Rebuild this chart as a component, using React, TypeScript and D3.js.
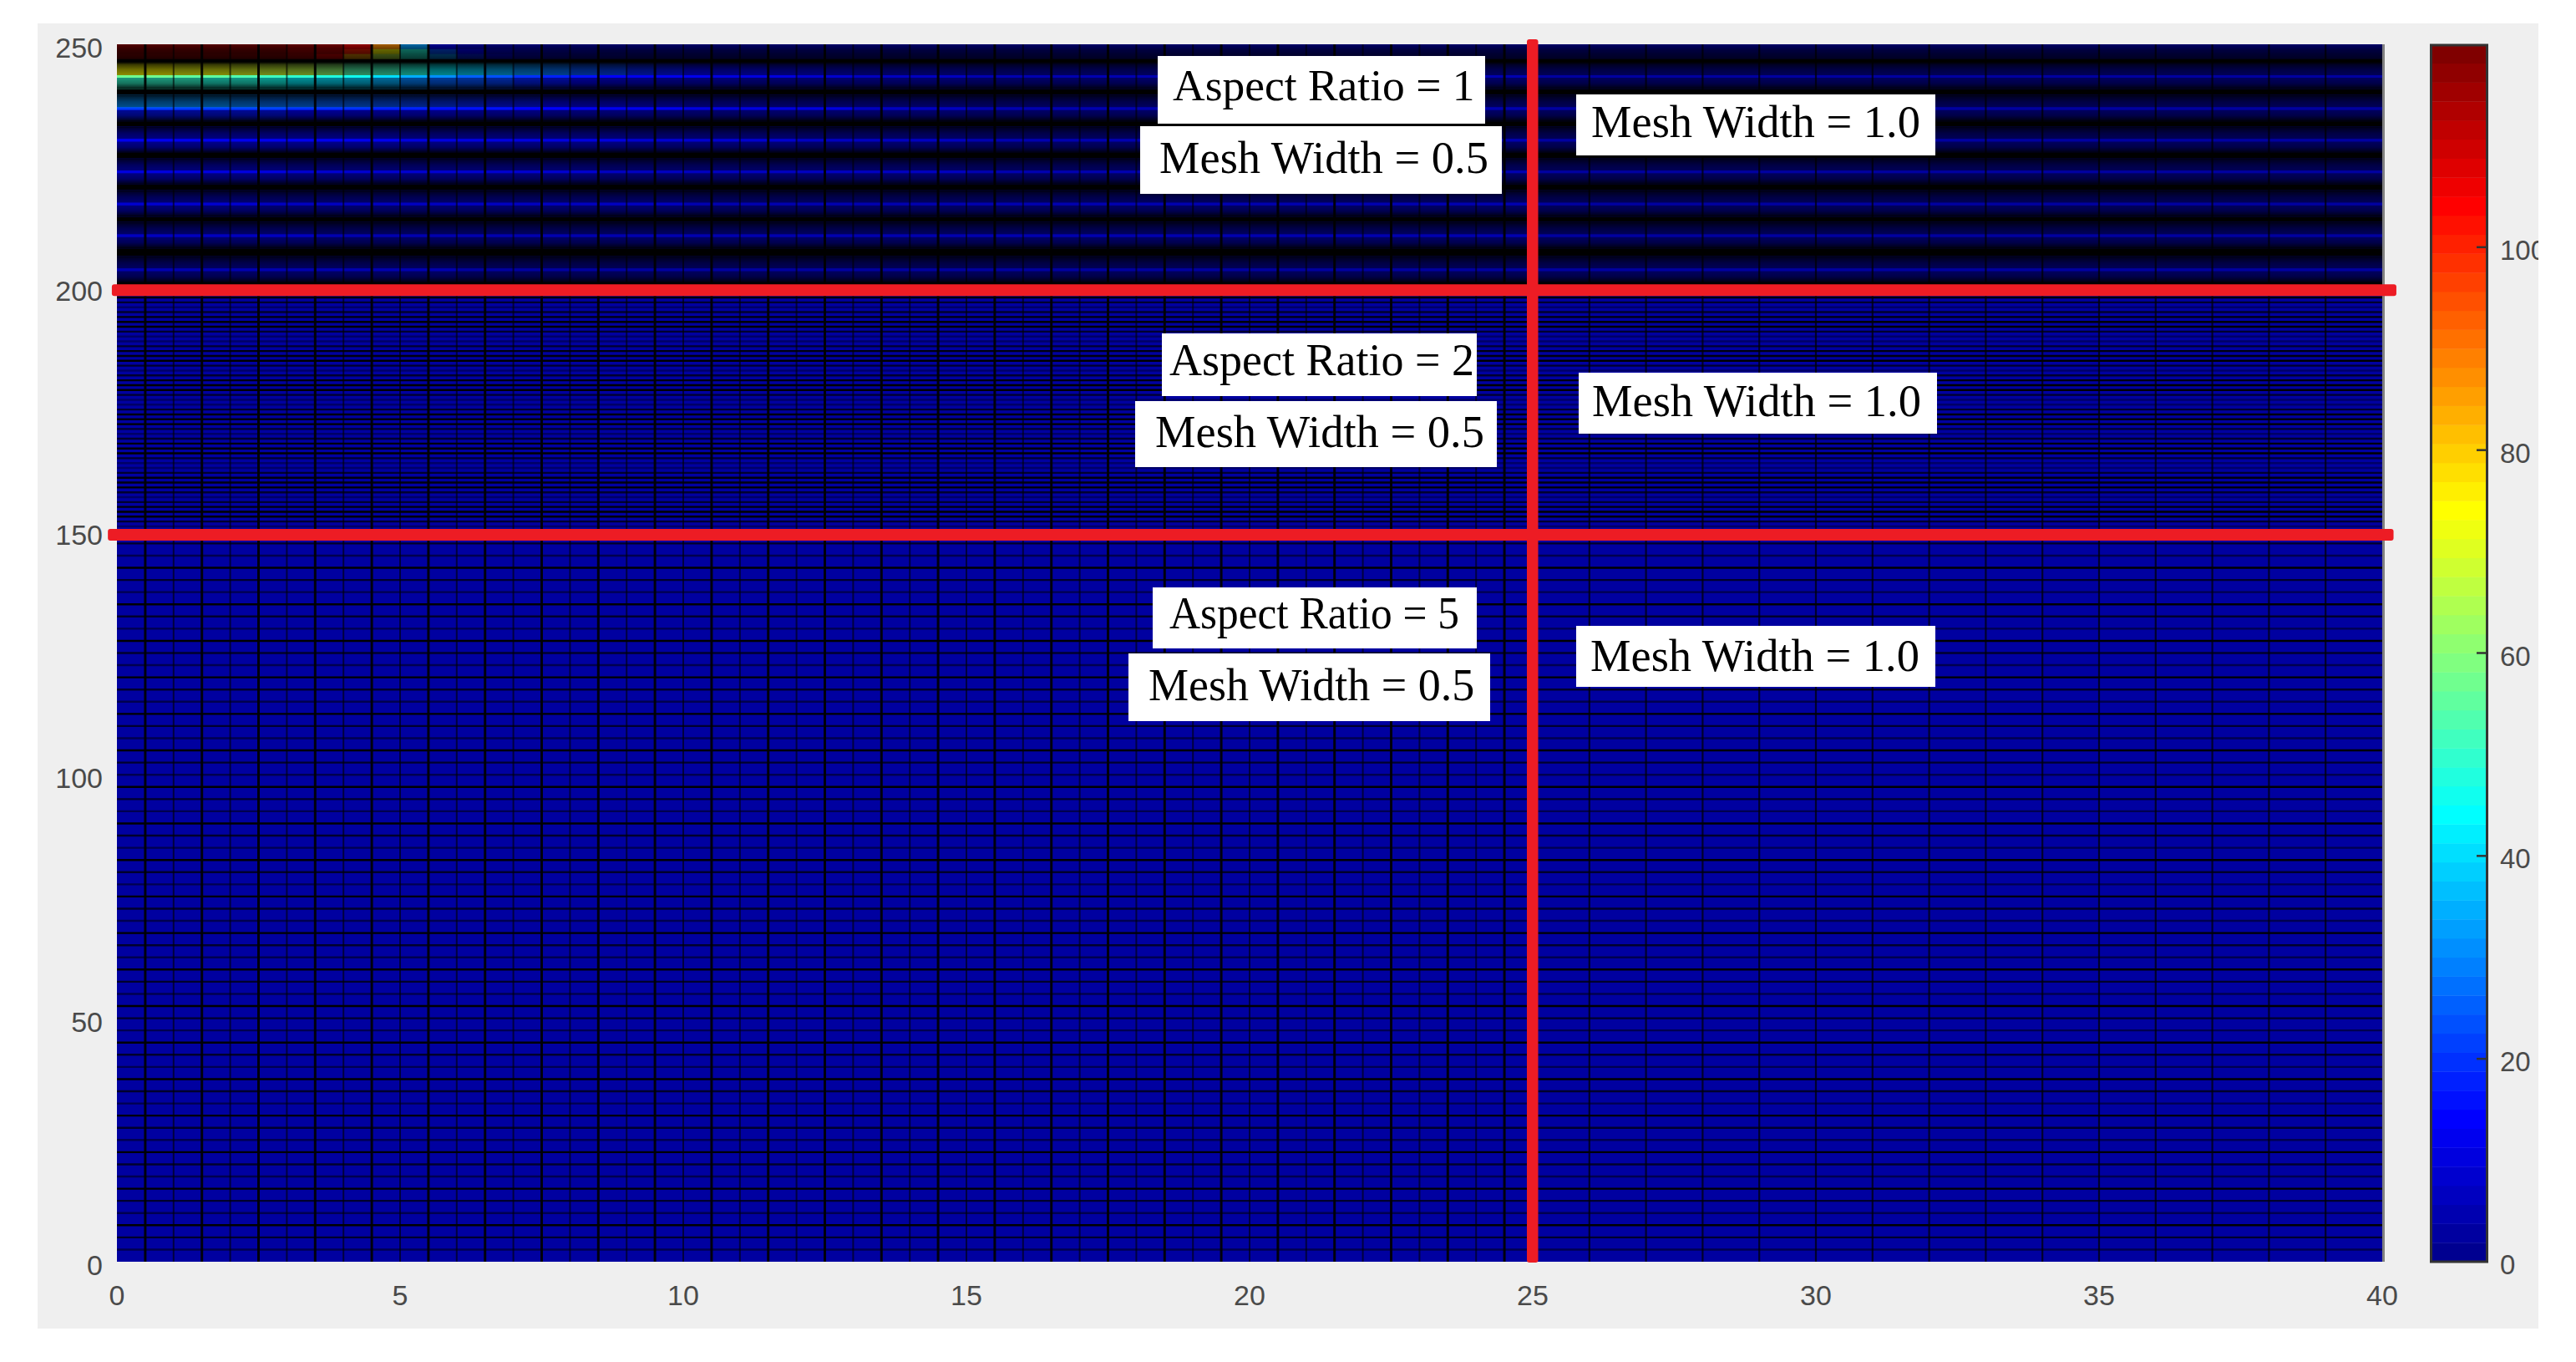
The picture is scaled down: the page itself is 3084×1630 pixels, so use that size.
import React from "react";
import * as d3 from "d3";

// ---------- data (temperature-like field, colour range 0..120) ----------
const xTicks = [0, 5, 10, 15, 20, 25, 30, 35, 40];
const yTicks = [0, 50, 100, 150, 200, 250];
const cbarTicks = [0, 20, 40, 60, 80, 100];

// mesh spacing per zone
const xEdgesFine = d3.range(0, 25.001, 0.5);
const xEdgesCoarse = d3.range(26, 40.001, 1);
const yLinesAR5 = d3.range(2.5, 150, 2.5);
const yLinesAR2 = d3.range(151, 200, 1);

const lowerFieldValue = 2;

// top strip (three sub rows), one value per 0.5-wide column from x=0
const topUpper = [119,119,119,119,119,119,118,116,108,88,32,10,7,5,4,3,3,3,2,2,2,2,2,2,2,2];
const topMiddle = [119,119,119,119,119,119,116,113,100,74,48,24,14,9,6,5,4,3,3,2,2,2,2,2,2,2];
const topLower = [118,118,118,118,117,117,113,105,85,66,48,30,18,12,8,6,5,4,3,3,2,2,2,2,2,2];

// moire-banded rows near the top surface
const bandLineY = [243.4, 236.8, 230.3, 223.8, 217.2, 210.7, 203.7];

const band1Above = [74,74,73,72,71,69,66,60,54,52,48,43,39,35,30,27,24,21,18,16,14,13,12,11,10,9];
const band1Line = [57,57,56,55,54,52,50,47,46,41,35,30,26,24,20,18,15,14,13,13,12,11,10,10,9,9];
const band1Below = [50,50,49,48,47,45,43,40,38,34,29,26,24,21,18,15,12,11,10,9,8,8,7,7,6,6];

const band2Above = [31,31,30,30,29,28,27,26,25,23,21,19,18,16,15,14,13,12,11,10,9,8,8,7,7,6];
const band2Line = [22,22,22,21,21,21,20,20,19,18,17,16,15,15,14,14,13,13,12,12,11,11,11,10,10,10];
const band2Below = [16,16,16,15,15,15,14,14,13,13,12,12,11,10,10,9,8,8,8,7,7,7,6,6,6,6];

const band3Line = [13,13,13,13,12,12,12,12,12,12,11,11,11,11,10,10,10,10,9,9,9,8,8,8,7,7];
const band4Line = [10,10,10,10,10,10,9,9,9,9,9,9,9,8,8,8,8,7,7,7,7,7,6,6,6,6];
const band5Line = [8,8,8,8,8,7,7,7,7,7,7,7,7,7,6,6,6,6,6,6,5,5,5,5,5,5];
const band6Line = [6,6,6,6,6,6,6,5,5,5,5,5,5,5,5,5,4,4,4,4,4,4,4,4,4,4];
const band7Line = [4,4,4,4,4,4,4,4,4,4,4,4,3,3,3,3,3,3,3,3,3,3,3,3,3,3];

// values right of x=13, per remaining column
const farLine = [6,6,6,6,5.5,5.5,5,5,5,5,4.5,4.5,4.5,4.5,4,4,4,4,4,4,4,4,4,4,3.5,3.5,3.5,3.5,3.5,3.5,3,3,3,3,3,3,3,3,3];

// annotation text
const labels = [
  { t: "Aspect Ratio = 1", box: [1386, 67, 1778, 148], x: 1404, y: 120, fs: 53.5 },
  { t: "Mesh Width = 0.5", box: [1365, 151, 1798, 232], x: 1388, y: 207, fs: 54.5 },
  { t: "Mesh Width = 1.0", box: [1887, 113, 2317, 186], x: 1905, y: 164, fs: 54.5 },
  { t: "Aspect Ratio = 2", box: [1391, 399, 1768, 474], x: 1400, y: 449, fs: 54 },
  { t: "Mesh Width = 0.5", box: [1359, 480, 1792, 559], x: 1383, y: 535, fs: 54.5 },
  { t: "Mesh Width = 1.0", box: [1890, 446, 2319, 519], x: 1906, y: 498, fs: 54.5 },
  { t: "Aspect Ratio = 5", box: [1380, 703, 1768, 776], x: 1400, y: 752, fs: 54, len: 347 },
  { t: "Mesh Width = 0.5", box: [1351, 782, 1784, 863], x: 1375, y: 838, fs: 54 },
  { t: "Mesh Width = 1.0", box: [1887, 749, 2317, 822], x: 1904, y: 803, fs: 54.5 },
];

// ---------- layout ----------
const W = 3084, H = 1630;
const panel = { x0: 45, y0: 28, x1: 3039, y1: 1590 };
const plot = { x0: 140, x1: 2852, y0: 53, y1: 1510 };
const cbar = { x0: 2909, x1: 2979 };

const x = d3.scaleLinear().domain([0, 40]).range([plot.x0, plot.x1]);
const y = d3.scaleLinear().domain([0, 250]).range([plot.y1, plot.y0]);
const cy = d3.scaleLinear().domain([0, 120]).range([plot.y1, plot.y0]);

const jetBase = d3.scaleLinear<string>()
  .domain([0, 1 / 8, 3 / 8, 5 / 8, 7 / 8, 1])
  .range(["rgb(0,0,128)", "rgb(0,0,255)", "rgb(0,255,255)", "rgb(255,255,0)", "rgb(255,0,0)", "rgb(128,0,0)"])
  .interpolate(d3.interpolateRgb);
const levels = d3.range(64);
const jet = d3.scaleQuantize<string>().domain([0, 120]).range(levels.map((i) => jetBase((i + 1) / 64)));

// columns: 0.5 wide up to x=25, 1.0 wide after
const edges = [...xEdgesFine, ...xEdgesCoarse];
const columns = edges.slice(0, -1).map((e, i) => ({ x0: e, x1: edges[i + 1], i }));
const val = (arr: number[], i: number) =>
  i < arr.length ? arr[i] : Math.min(arr[arr.length - 1], farLine[i - arr.length]);

const bands = [
  { above: band1Above, line: band1Line, below: band1Below },
  { above: band2Above, line: band2Line, below: band2Below },
  { above: band3Line, line: band3Line, below: band3Line },
  { above: band4Line, line: band4Line, below: band4Line },
  { above: band5Line, line: band5Line, below: band5Line },
  { above: band6Line, line: band6Line, below: band6Line },
  { above: band7Line, line: band7Line, below: band7Line },
];
const topRows = [
  { v: topUpper, y0: 250, y1: 249 },
  { v: topMiddle, y0: 249, y1: 248 },
  { v: topLower, y0: 248, y1: 247.05 },
];

const ar5Alpha = [1, 0.72, 0.5];
const ar2Alpha = [0.9, 1, 0.7, 0.35, 0.7, 0.9, 1, 1, 0.7, 0.35, 0.35, 0.7, 0.9];

const tickFont = { fontFamily: "'Liberation Sans', Arial, sans-serif", fontSize: 34, fill: "#4a4a4a" };

const redH = [
  { v: 199.5, a: -0.09, b: 40.25 },
  { v: 149.3, a: -0.16, b: 40.2 },
];

export default function App() {
  const bandAboveH = 2.83, bandBelowH = 2.6, lineH = 0.25;
  return (
    <svg width={W} height={H} viewBox={`0 0 ${W} ${H}`} style={{ position: "absolute", left: 0, top: 0, background: "#fff" }}>
      <defs>
        <clipPath id="panelClip">
          <rect x={panel.x0} y={panel.y0} width={panel.x1 - panel.x0} height={panel.y1 - panel.y0} />
        </clipPath>
        <clipPath id="plotClip">
          <rect x={plot.x0} y={plot.y0} width={plot.x1 - plot.x0} height={plot.y1 - plot.y0} />
        </clipPath>
        <linearGradient id="shadeAbove" x1="0" x2="0" y1="0" y2="1">
          <stop offset="0" stopColor="#000" stopOpacity={0.95} />
          <stop offset="0.15" stopColor="#000" stopOpacity={0.78} />
          <stop offset="0.55" stopColor="#000" stopOpacity={0.58} />
          <stop offset="1" stopColor="#000" stopOpacity={0.45} />
        </linearGradient>
        <linearGradient id="shadeBelow" x1="0" x2="0" y1="0" y2="1">
          <stop offset="0" stopColor="#000" stopOpacity={0.4} />
          <stop offset="0.5" stopColor="#000" stopOpacity={0.55} />
          <stop offset="0.85" stopColor="#000" stopOpacity={0.8} />
          <stop offset="1" stopColor="#000" stopOpacity={0.96} />
        </linearGradient>
        <linearGradient id="shadeTop" x1="0" x2="0" y1="0" y2="1">
          <stop offset="0" stopColor="#000" stopOpacity={0.35} />
          <stop offset="0.35" stopColor="#000" stopOpacity={0.6} />
          <stop offset="1" stopColor="#000" stopOpacity={0.78} />
        </linearGradient>
      </defs>

      <rect x={panel.x0} y={panel.y0} width={panel.x1 - panel.x0} height={panel.y1 - panel.y0} fill="#efefef" />

      {/* field */}
      <g clipPath="url(#plotClip)">
        <rect x={plot.x0} y={plot.y0} width={plot.x1 - plot.x0} height={plot.y1 - plot.y0} fill="#000" />
        <rect x={plot.x0} y={y(200)} width={plot.x1 - plot.x0} height={plot.y1 - y(200)} fill={jet(lowerFieldValue)} />

        {/* top strip */}
        {topRows.map((r, k) =>
          columns.map((c) => (
            <rect key={`t${k}-${c.i}`} x={x(c.x0)} width={x(c.x1) - x(c.x0) + 0.5}
              y={y(r.y0)} height={y(r.y1) - y(r.y0) + (k < 2 ? 0.3 : 0)} fill={jet(val(r.v, c.i))} />
          ))
        )}
        <rect x={plot.x0} y={y(250)} width={plot.x1 - plot.x0} height={y(247.05) - y(250)} fill="url(#shadeTop)" />
        {/* bands */}
        {bands.map((b, k) => {
          const ly = bandLineY[k];
          return (
            <g key={`b${k}`}>
              {columns.map((c) => (
                <g key={c.i}>
                  <rect x={x(c.x0)} width={x(c.x1) - x(c.x0) + 0.5} y={y(ly + bandAboveH)} height={y(ly) - y(ly + bandAboveH)} fill={jet(val(b.above, c.i))} />
                  <rect x={x(c.x0)} width={x(c.x1) - x(c.x0) + 0.5} y={y(ly)} height={y(ly - bandBelowH) - y(ly)} fill={jet(val(b.below, c.i))} />
                </g>
              ))}
              <rect x={plot.x0} width={plot.x1 - plot.x0} y={y(ly + bandAboveH)} height={y(ly + lineH) - y(ly + bandAboveH)} fill="url(#shadeAbove)" />
              <rect x={plot.x0} width={plot.x1 - plot.x0} y={y(ly - lineH)} height={y(ly - bandBelowH) - y(ly - lineH)} fill="url(#shadeBelow)" />
              {columns.map((c) => (
                <rect key={`l${c.i}`} x={x(c.x0)} width={x(c.x1) - x(c.x0) + 0.5} y={y(ly + lineH)} height={y(ly - lineH) - y(ly + lineH)} fill={jet(val(b.line, c.i))} />
              ))}
            </g>
          );
        })}

        {/* horizontal mesh */}
        {yLinesAR5.map((v, i) => (
          <line key={`a${v}`} x1={plot.x0} x2={plot.x1} y1={y(v)} y2={y(v)} stroke="#000" strokeWidth={2.4}
            opacity={ar5Alpha[(yLinesAR5.length - i) % 3]} />
        ))}
        {yLinesAR2.map((v, i) => (
          <line key={`b${v}`} x1={plot.x0} x2={plot.x1} y1={y(v)} y2={y(v)} stroke="#000" strokeWidth={2.4}
            opacity={ar2Alpha[(yLinesAR2.length - 1 - i) % 13]} />
        ))}

        {/* vertical mesh */}
        {xEdgesFine.slice(1).map((v, i) => {
          const strong = i % 2 === 0;
          return (
            <line key={`v${v}`} x1={x(v)} x2={x(v)} y1={plot.y0} y2={plot.y1} stroke="#000"
              strokeWidth={strong ? 3 : 2} opacity={strong ? 0.92 : 0.6} />
          );
        })}
        {xEdgesCoarse.slice(0, -1).map((v) => (
          <line key={`c${v}`} x1={x(v)} x2={x(v)} y1={plot.y0} y2={plot.y1} stroke="#000"
            strokeWidth={2.2} opacity={0.72} />
        ))}
      </g>
      <rect x={plot.x1} y={plot.y0} width={3} height={plot.y1 - plot.y0} fill="#808080" />

      {/* axis tick labels */}
      {yTicks.map((t) => (
        <text key={`yt${t}`} x={123} y={y(t) + 16} textAnchor="end" {...tickFont}>{t}</text>
      ))}
      {xTicks.map((t) => (
        <text key={`xt${t}`} x={x(t)} y={1562} textAnchor="middle" {...tickFont}>{t}</text>
      ))}

      {/* colorbar */}
      {levels.map((i) => (
        <rect key={`cb${i}`} x={cbar.x0} width={cbar.x1 - cbar.x0}
          y={cy(((i + 1) * 120) / 64)} height={cy((i * 120) / 64) - cy(((i + 1) * 120) / 64) + 0.4}
          fill={jetBase((i + 1) / 64)} />
      ))}
      <rect x={cbar.x0 + 1.5} y={plot.y0 + 1} width={cbar.x1 - cbar.x0 - 3} height={plot.y1 - plot.y0 - 1} fill="none" stroke="#333" strokeWidth={3} />
      <g clipPath="url(#panelClip)">
        {cbarTicks.map((t) => (
          <g key={`ct${t}`}>
            {t > 0 && <line x1={cbar.x1 - 14} x2={cbar.x1 - 2} y1={cy(t)} y2={cy(t)} stroke="#333" strokeWidth={2.5} />}
            <text x={2993} y={cy(t) + 15} {...tickFont} fontSize={33}>{t}</text>
          </g>
        ))}
      </g>

      {/* red partition lines */}
      {redH.map((r) => (
        <rect key={`r${r.v}`} x={x(r.a)} width={x(r.b) - x(r.a)} y={y(r.v) - 7} height={14} rx={3} fill="#ed1c24" />
      ))}
      <rect x={x(25) - 7} width={13.5} y={47} height={1511 - 47} rx={3} fill="#ed1c24" />

      {/* annotations */}
      {labels.map((l, i) => (
        <g key={i}>
          <rect x={l.box[0]} y={l.box[1]} width={l.box[2] - l.box[0]} height={l.box[3] - l.box[1]} fill="#fff" />
          <text x={l.x} y={l.y} fontFamily="'Liberation Serif', 'Times New Roman', serif" fontSize={l.fs} fill="#000"
            {...(l.len ? { textLength: l.len, lengthAdjust: "spacingAndGlyphs" } : {})}>{l.t}</text>
        </g>
      ))}
    </svg>
  );
}
